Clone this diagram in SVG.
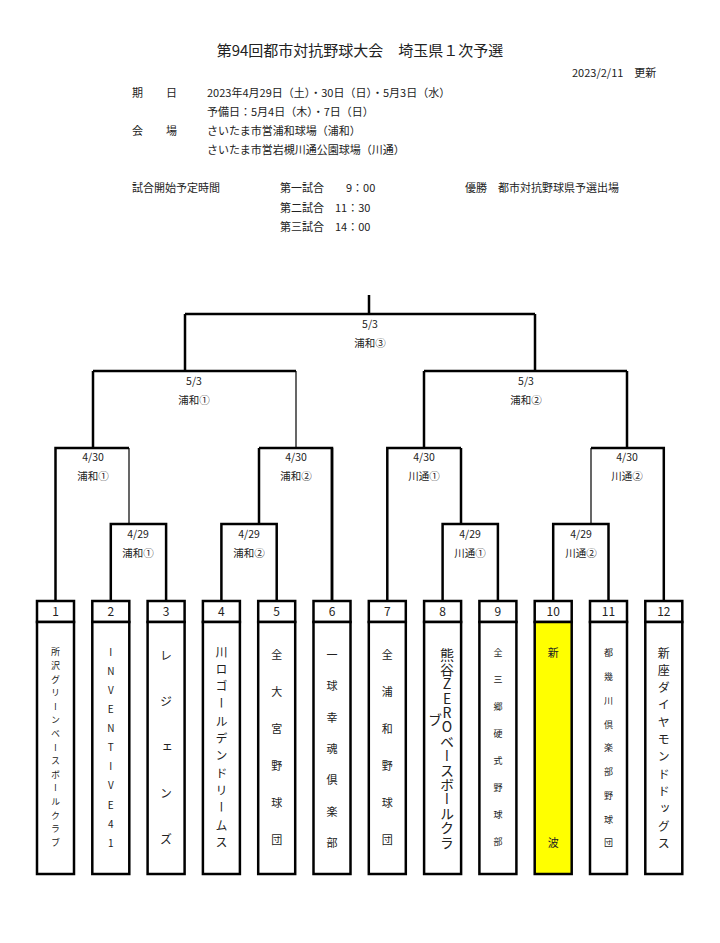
<svg xmlns="http://www.w3.org/2000/svg" width="720" height="943" viewBox="0 0 720 943">
<style>
text{font-family:"Noto Sans CJK JP","Liberation Sans",sans-serif;fill:#222}
.h{font-size:11px}
.l{font-size:10.5px;text-anchor:middle}
.n{font-size:12px;text-anchor:middle}
.v{writing-mode:vertical-rl;text-orientation:upright}
.k{stroke:#000;stroke-width:2.5;fill:none}
.t{stroke:#000;stroke-width:1.2;fill:none}
.b{stroke:#000;stroke-width:2.5;fill:#fff}
</style>
<rect width="720" height="943" fill="#fff"/>
<g id="header">
<text x="360" y="56" style="font-size:15px;text-anchor:middle">第94回都市対抗野球大会　埼玉県１次予選</text>
<text x="572" y="77" class="h">2023/2/11　更新</text>
<text x="132" y="97" class="h">期</text><text x="166" y="97" class="h">日</text>
<text x="207" y="97" class="h">2023年4月29日（土）・30日（日）・5月3日（水）</text>
<text x="207" y="116" class="h">予備日：5月4日（木）・7日（日）</text>
<text x="132" y="135" class="h">会</text><text x="166" y="135" class="h">場</text>
<text x="207" y="135" class="h">さいたま市営浦和球場（浦和）</text>
<text x="207" y="154" class="h">さいたま市営岩槻川通公園球場（川通）</text>
<text x="132" y="192" class="h">試合開始予定時間</text>
<text x="280" y="192" class="h">第一試合　　9：00</text>
<text x="280" y="212" class="h">第二試合　11：30</text>
<text x="280" y="231" class="h">第三試合　14：00</text>
<text x="465" y="192" class="h">優勝　都市対抗野球県予選出場</text>
</g>
<g id="connectors">
<path class="k" d="M369 295V314M185 314H535M185 314V371M535 314V371"/>
<path class="k" d="M93 371H296M93 371V448M424 371H627M424 371V448M627 371V448"/>
<path class="t" d="M296 371V448"/>
<path class="k" d="M55.5 601V448H129M259 448H332V601M259 448V524"/>
<path class="t" d="M129 448V524"/>
<path class="k" d="M387.3 601V448H461M591 448H663.8V601M461 448V524"/>
<path class="t" d="M591 448V524"/>
<path class="k" d="M110.8 601V524H166.1V601M221.4 601V524H276.7V601M442.6 601V524H497.9V601M553.2 601V524H608.5V601M332 601V448"/>
</g>
<g id="labels">
<text x="370" y="328" class="l">5/3</text><text x="370" y="347" class="l">浦和③</text>
<text x="194" y="385" class="l">5/3</text><text x="194" y="404" class="l">浦和①</text>
<text x="526" y="385" class="l">5/3</text><text x="526" y="404" class="l">浦和②</text>
<text x="93" y="461" class="l">4/30</text><text x="93" y="480" class="l">浦和①</text>
<text x="296" y="461" class="l">4/30</text><text x="296" y="480" class="l">浦和②</text>
<text x="424" y="461" class="l">4/30</text><text x="424" y="480" class="l">川通①</text>
<text x="627" y="461" class="l">4/30</text><text x="627" y="480" class="l">川通②</text>
<text x="138" y="538" class="l">4/29</text><text x="138" y="557" class="l">浦和①</text>
<text x="249" y="538" class="l">4/29</text><text x="249" y="557" class="l">浦和②</text>
<text x="470" y="538" class="l">4/29</text><text x="470" y="557" class="l">川通①</text>
<text x="581" y="538" class="l">4/29</text><text x="581" y="557" class="l">川通②</text>
</g>
<g id="team1"><rect class="b" x="37" y="601" width="37" height="21"/><rect class="b" x="37" y="622" width="37" height="252"/><text x="55.5" y="616" class="n">1</text><text x="55.5" y="647.5" class="v" style="font-size:9px;letter-spacing:4.6px">所沢グリーンベースボールクラブ</text></g>
<g id="team2"><rect class="b" x="92.3" y="601" width="37" height="21"/><rect class="b" x="92.3" y="622" width="37" height="252"/><text x="110.8" y="616" class="n">2</text><text x="110.8" y="647" class="v" style="font-size:10px;letter-spacing:9.1px">INVENTIVE41</text></g>
<g id="team3"><rect class="b" x="147.6" y="601" width="37" height="21"/><rect class="b" x="147.6" y="622" width="37" height="252"/><text x="166.1" y="616" class="n">3</text><text x="166.1" y="649" class="v" style="font-size:12px;letter-spacing:34px">レジェンズ</text></g>
<g id="team4"><rect class="b" x="202.9" y="601" width="37" height="21"/><rect class="b" x="202.9" y="622" width="37" height="252"/><text x="221.4" y="616" class="n">4</text><text x="221.4" y="646" class="v" style="font-size:12px;letter-spacing:5.3px">川ロゴールデンドリームス</text></g>
<g id="team5"><rect class="b" x="258.2" y="601" width="37" height="21"/><rect class="b" x="258.2" y="622" width="37" height="252"/><text x="276.7" y="616" class="n">5</text><text x="276.7" y="649.5" class="v" style="font-size:11px;letter-spacing:26px">全大宮野球団</text></g>
<g id="team6"><rect class="b" x="313.5" y="601" width="37" height="21"/><rect class="b" x="313.5" y="622" width="37" height="252"/><text x="332" y="616" class="n">6</text><text x="332" y="649.5" class="v" style="font-size:11px;letter-spacing:20.3px">一球幸魂倶楽部</text></g>
<g id="team7"><rect class="b" x="368.8" y="601" width="37" height="21"/><rect class="b" x="368.8" y="622" width="37" height="252"/><text x="387.3" y="616" class="n">7</text><text x="387.3" y="649.5" class="v" style="font-size:11px;letter-spacing:26px">全浦和野球団</text></g>
<g id="team8"><rect class="b" x="424.1" y="601" width="37" height="21"/><rect class="b" x="424.1" y="622" width="37" height="252"/><text x="442.6" y="616" class="n">8</text><text x="447" y="648" class="v" style="font-size:14px;letter-spacing:0.4px">熊谷ZEROベースボールクラ</text><text x="435" y="713" class="v" style="font-size:14px">ブ</text></g>
<g id="team9"><rect class="b" x="479.4" y="601" width="37" height="21"/><rect class="b" x="479.4" y="622" width="37" height="252"/><text x="497.9" y="616" class="n">9</text><text x="497.9" y="648.5" class="v" style="font-size:9px;letter-spacing:18px">全三郷硬式野球部</text></g>
<g id="team10"><rect class="b" x="534.7" y="601" width="37" height="21"/><rect class="b" x="534.7" y="622" width="37" height="252" style="fill:#ffff00"/><text x="553.2" y="616" class="n">10</text><text x="553.2" y="657" style="font-size:11px;text-anchor:middle">新</text><text x="553.2" y="847" style="font-size:11px;text-anchor:middle">波</text></g>
<g id="team11"><rect class="b" x="590" y="601" width="37" height="21"/><rect class="b" x="590" y="622" width="37" height="252"/><text x="608.5" y="616" class="n">11</text><text x="608.5" y="648.5" class="v" style="font-size:9px;letter-spacing:14.75px">都幾川倶楽部野球団</text></g>
<g id="team12"><rect class="b" x="645.3" y="601" width="37" height="21"/><rect class="b" x="645.3" y="622" width="37" height="252"/><text x="663.8" y="616" class="n">12</text><text x="663.8" y="647" class="v" style="font-size:12px;letter-spacing:5.3px">新座ダイヤモンドドッグス</text></g>
</svg>
